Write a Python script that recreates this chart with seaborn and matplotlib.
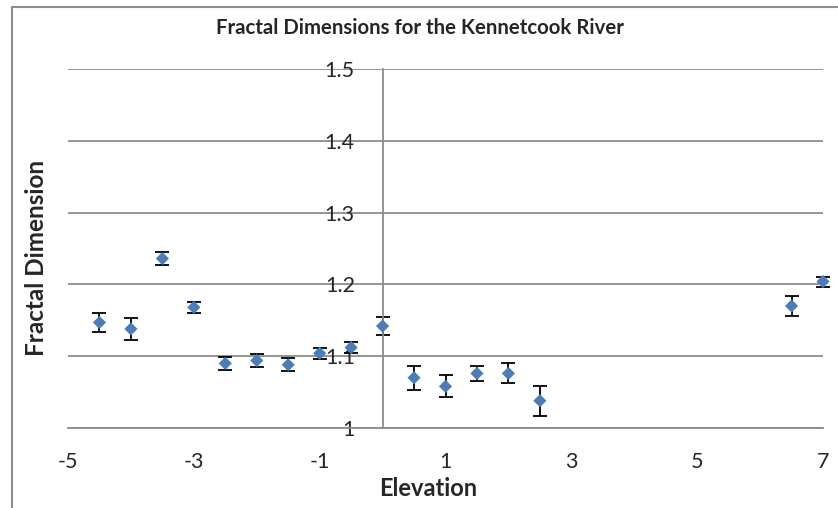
import matplotlib
matplotlib.use("Agg")
import matplotlib.pyplot as plt
import seaborn as sns
import pandas as pd
from matplotlib.lines import Line2D
from matplotlib.ticker import FormatStrFormatter

elevation = [-4.5, -4.0, -3.5, -3.0, -2.5, -2.0, -1.5, -1.0, -0.5, 0.0,
             0.5, 1.0, 1.5, 2.0, 2.5, 6.5, 7.0]
fractal_dim = [1.147, 1.138, 1.236, 1.168, 1.090, 1.094, 1.088, 1.104, 1.112, 1.142,
               1.070, 1.058, 1.076, 1.076, 1.038, 1.170, 1.204]
error = [0.013, 0.015, 0.009, 0.008, 0.009, 0.009, 0.009, 0.0075, 0.008, 0.012,
         0.017, 0.0155, 0.011, 0.014, 0.021, 0.014, 0.007]
x_ticks = [-5, -3, -1, 1, 3, 5, 7]
y_ticks = [1.0, 1.1, 1.2, 1.3, 1.4, 1.5]

df = pd.DataFrame({"Elevation": elevation, "Fractal Dimension": fractal_dim, "err": error})

sns.set_style("white")
plt.rcParams["font.family"] = ["Lato", "DejaVu Sans"]
plt.rcParams["axes.unicode_minus"] = False

W, H = 838, 508
fig = plt.figure(figsize=(W / 100, H / 100), dpi=100)
ax = fig.add_axes([68 / W, 1 - 428 / H, 755 / W, 359 / H])

grid_c = "#8c8c8c"
ax.set_axisbelow(True)
ax.yaxis.grid(True, color=grid_c, lw=1.3)
ax.xaxis.grid(False)

ax.errorbar(df["Elevation"], df["Fractal Dimension"], yerr=df["err"], fmt="none",
            ecolor="black", elinewidth=1.3, capsize=5, capthick=1.3, zorder=2,
            clip_on=False)
sns.scatterplot(data=df, x="Elevation", y="Fractal Dimension", marker="D", s=45,
                color="#4A7EBB", edgecolor="none", ax=ax, zorder=3, clip_on=False)

ax.set_xlim(-5, 7)
ax.set_ylim(1.0, 1.5)
ax.set_xticks(x_ticks)
ax.set_yticks(y_ticks)
ax.yaxis.set_major_formatter(FormatStrFormatter("%g"))
ax.set_xlabel("")
ax.set_ylabel("")

for s in ["top", "right"]:
    ax.spines[s].set_visible(False)
ax.spines["left"].set_position(("data", 0))
ax.spines["left"].set_color(grid_c)
ax.spines["left"].set_linewidth(1.3)
ax.spines["bottom"].set_color(grid_c)
ax.spines["bottom"].set_linewidth(1.3)
ax.tick_params(axis="x", length=0, pad=17, labelsize=15.5)
ax.tick_params(axis="y", length=0, pad=20, labelsize=15.5)

fig.text(420 / W, 1 - 28 / H, "Fractal Dimensions for the Kennetcook River",
         ha="center", va="center", fontsize=14.7, fontweight="bold")
fig.text(428 / W, 1 - 488 / H, "Elevation", ha="center", va="center",
         fontsize=17, fontweight="bold")
fig.text(37 / W, 1 - 258 / H, "Fractal Dimension", ha="center", va="center",
         rotation=90, fontsize=17.5, fontweight="bold")

fig.add_artist(Line2D([12 / W, 1], [1 - 7 / H, 1 - 7 / H], color=grid_c, lw=1.5))
fig.add_artist(Line2D([12 / W, 12 / W], [0, 1 - 7 / H], color=grid_c, lw=1.5))

fig.savefig("out.png", dpi=100)
